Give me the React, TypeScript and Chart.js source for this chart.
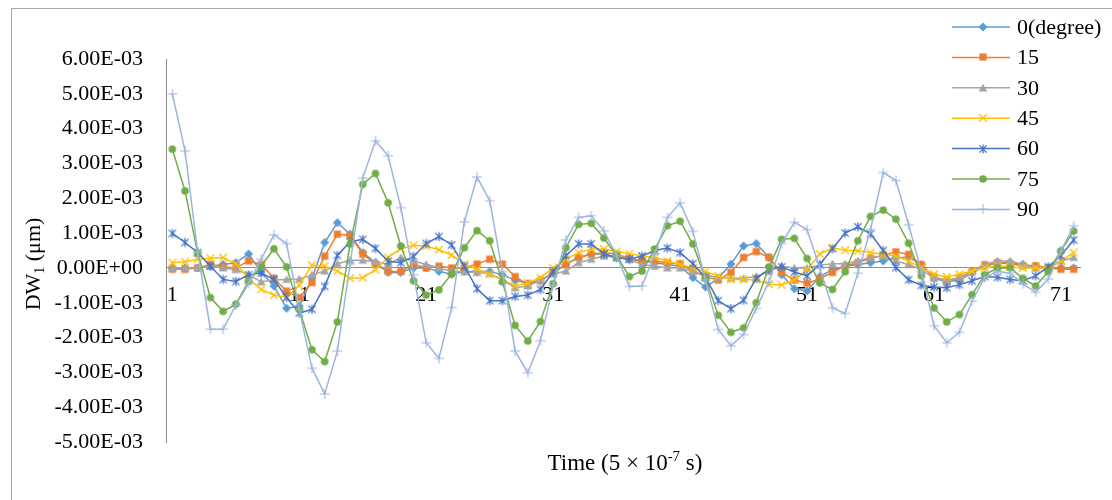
import React, { useEffect, useRef } from 'react';
import { Chart, registerables } from 'chart.js';

Chart.register(...registerables);

// ---------- data (values in units of 1E-03 µm) ----------
const CATEGORIES = [
  '1','2','3','4','5','6','7','8','9','10','11','12','13','14','15','16','17','18',
  '19','20','21','22','23','24','25','26','27','28','29','30','31','32','33','34','35','36',
  '37','38','39','40','41','42','43','44','45','46','47','48','49','50','51','52','53','54',
  '55','56','57','58','59','60','61','62','63','64','65','66','67','68','69','70','71','72',
];

const Y_TICK_VALUES = [-5, -4, -3, -2, -1, 0, 1, 2, 3, 4, 5, 6];
const Y_TICK_LABELS = [
  '-5.00E-03', '-4.00E-03', '-3.00E-03', '-2.00E-03', '-1.00E-03', '0.00E+00',
  '1.00E-03', '2.00E-03', '3.00E-03', '4.00E-03', '5.00E-03', '6.00E-03',
];

const SERIES_NAMES = ['0(degree)', '15', '30', '45', '60', '75', '90'];

const DEG0 = [
  0.00, 0.00, 0.00, 0.05, 0.10, 0.15, 0.40, -0.12, -0.52, -1.16,
  -1.10, -0.30, 0.73, 1.30, 0.97, 0.44, 0.15, -0.13, -0.13, 0.00,
  0.00, -0.10, -0.18, -0.10, -0.10, -0.10, -0.20, -0.35, -0.45, -0.35,
  -0.15, 0.10, 0.30, 0.40, 0.40, 0.30, 0.25, 0.20, 0.15, 0.10,
  0.05, -0.28, -0.55, -0.30, 0.11, 0.63, 0.70, 0.30, -0.20, -0.60,
  -0.66, -0.25, -0.05, 0.05, 0.10, 0.15, 0.20, 0.30, 0.30, 0.10,
  -0.30, -0.40, -0.35, -0.15, 0.05, 0.15, 0.15, 0.10, 0.05, 0.00,
  0.00, 0.00,
];
const DEG15 = [
  -0.04, -0.04, 0.00, 0.10, 0.03, 0.00, 0.20, 0.10, -0.30, -0.67,
  -0.85, -0.42, 0.34, 0.97, 0.93, 0.40, 0.10, -0.10, -0.10, 0.10,
  0.00, 0.05, 0.00, 0.00, 0.11, 0.25, 0.11, -0.25, -0.47, -0.37,
  -0.13, 0.10, 0.30, 0.39, 0.44, 0.39, 0.28, 0.20, 0.20, 0.15,
  0.12, -0.10, -0.25, -0.35, -0.13, 0.30, 0.47, 0.30, -0.13, -0.35,
  -0.44, -0.31, -0.13, 0.06, 0.15, 0.28, 0.36, 0.46, 0.39, 0.09,
  -0.26, -0.37, -0.28, -0.09, 0.09, 0.15, 0.12, 0.06, 0.06, 0.00,
  -0.04, -0.04,
];
const DEG30 = [
  0.00, 0.00, 0.00, 0.05, 0.00, -0.05, -0.20, -0.40, -0.35, -0.33,
  -0.32, -0.20, -0.09, 0.12, 0.22, 0.22, 0.18, 0.10, 0.30, 0.20,
  0.10, 0.00, -0.10, -0.11, -0.13, -0.16, -0.35, -0.57, -0.52, -0.35,
  -0.18, -0.09, 0.15, 0.25, 0.34, 0.30, 0.25, 0.10, 0.05, 0.00,
  0.00, -0.10, -0.20, -0.28, -0.30, -0.30, -0.25, -0.10, 0.05, 0.00,
  0.00, 0.08, 0.12, 0.12, 0.20, 0.30, 0.34, 0.20, 0.10, -0.05,
  -0.30, -0.35, -0.30, -0.10, 0.10, 0.20, 0.20, 0.10, 0.00, 0.00,
  0.20, 0.30,
];
const DEG45 = [
  0.15, 0.18, 0.25, 0.28, 0.30, 0.12, -0.30, -0.62, -0.78, -0.85,
  -0.50, 0.08, 0.05, -0.09, -0.30, -0.28, -0.05, 0.30, 0.55, 0.65,
  0.62, 0.52, 0.37, 0.10, -0.04, -0.18, -0.33, -0.52, -0.43, -0.28,
  0.00, 0.25, 0.44, 0.54, 0.54, 0.47, 0.41, 0.34, 0.30, 0.20,
  0.10, 0.00, -0.10, -0.23, -0.33, -0.33, -0.35, -0.47, -0.49, -0.35,
  -0.05, 0.40, 0.58, 0.51, 0.49, 0.44, 0.39, 0.34, 0.20, 0.00,
  -0.18, -0.26, -0.18, -0.09, 0.00, 0.06, 0.03, 0.00, 0.00, 0.00,
  0.20, 0.44,
];
const DEG60 = [
  0.99, 0.73, 0.44, 0.05, -0.33, -0.39, -0.20, -0.15, -0.33, -0.85,
  -1.30, -1.19, -0.53, 0.36, 0.75, 0.82, 0.56, 0.19, 0.15, 0.33,
  0.70, 0.90, 0.66, 0.05, -0.60, -0.94, -0.94, -0.82, -0.78, -0.62,
  -0.11, 0.35, 0.69, 0.69, 0.40, 0.30, 0.25, 0.34, 0.50, 0.57,
  0.44, 0.12, -0.28, -0.94, -1.17, -0.93, -0.30, -0.04, 0.03, -0.12,
  -0.23, 0.10, 0.55, 1.00, 1.18, 0.98, 0.50, 0.01, -0.34, -0.50,
  -0.55, -0.57, -0.48, -0.37, -0.25, -0.27, -0.33, -0.37, -0.23, 0.03,
  0.35, 0.80,
];
const DEG75 = [
  3.41, 2.21, 0.42, -0.85, -1.25, -1.04, -0.39, 0.05, 0.55, 0.03,
  -1.19, -2.35, -2.69, -1.55, 0.68, 2.40, 2.71, 1.87, 0.63, -0.37,
  -0.78, -0.63, -0.18, 0.58, 1.07, 0.78, -0.40, -1.65, -2.10, -1.54,
  -0.45, 0.58, 1.25, 1.28, 0.86, 0.35, -0.25, -0.09, 0.54, 1.21,
  1.34, 0.69, -0.30, -1.36, -1.85, -1.72, -1.00, 0.03, 0.82, 0.85,
  0.27, -0.43, -0.62, -0.11, 0.78, 1.48, 1.66, 1.40, 0.71, -0.23,
  -1.15, -1.55, -1.34, -0.77, -0.20, 0.00, 0.00, -0.30, -0.52, -0.11,
  0.49, 1.06,
];
const DEG90 = [
  5.00, 3.36, 0.45, -1.76, -1.76, -1.07, -0.45, 0.25, 0.95, 0.70,
  -1.20, -2.88, -3.62, -2.39, 0.10, 2.58, 3.65, 3.22, 1.73, -0.20,
  -2.15, -2.60, -1.14, 1.32, 2.61, 1.93, -0.10, -2.39, -3.01, -2.09,
  -0.50, 0.80, 1.45, 1.50, 1.06, 0.35, -0.53, -0.52, 0.40, 1.45,
  1.87, 1.05, -0.35, -1.77, -2.24, -1.91, -1.16, -0.40, 0.70, 1.31,
  1.10, 0.00, -1.15, -1.31, -0.15, 1.10, 2.74, 2.51, 1.24, -0.10,
  -1.66, -2.15, -1.85, -0.95, -0.28, -0.10, -0.15, -0.45, -0.70, -0.32,
  0.49, 1.21,
];

const SERIES_DATA = [DEG0, DEG15, DEG30, DEG45, DEG60, DEG75, DEG90];
const SERIES_COLORS = ['#5B9BD5', '#ED7D31', '#A5A5A5', '#FFC000', '#4472C4', '#70AD47', '#9DB4DF'];
const SERIES_MARKERS = ['diamond', 'square', 'triangle', 'x', 'star', 'circle', 'plus'];

const FONT = '"Liberation Serif", "Times New Roman", serif';

function makeMarker(kind: string, color: string): HTMLCanvasElement {
  const s = 14;
  const c = document.createElement('canvas');
  c.width = s;
  c.height = s;
  const g = c.getContext('2d') as CanvasRenderingContext2D;
  const m = s / 2;
  g.fillStyle = color;
  g.strokeStyle = color;
  g.lineWidth = 1.3;
  g.beginPath();
  switch (kind) {
    case 'diamond':
      g.moveTo(m, m - 4.5); g.lineTo(m + 4.5, m); g.lineTo(m, m + 4.5); g.lineTo(m - 4.5, m); g.closePath(); g.fill();
      break;
    case 'square':
      g.rect(m - 3.6, m - 3.6, 7.2, 7.2); g.fill();
      break;
    case 'triangle':
      g.moveTo(m, m - 4.2); g.lineTo(m + 4.4, m + 3.4); g.lineTo(m - 4.4, m + 3.4); g.closePath(); g.fill();
      break;
    case 'x':
      g.moveTo(m - 3.8, m - 3.8); g.lineTo(m + 3.8, m + 3.8);
      g.moveTo(m + 3.8, m - 3.8); g.lineTo(m - 3.8, m + 3.8); g.stroke();
      break;
    case 'star':
      g.moveTo(m - 3.6, m - 3.6); g.lineTo(m + 3.6, m + 3.6);
      g.moveTo(m + 3.6, m - 3.6); g.lineTo(m - 3.6, m + 3.6);
      g.moveTo(m, m - 4.6); g.lineTo(m, m + 4.6); g.stroke();
      break;
    case 'circle':
      g.arc(m, m, 3.8, 0, Math.PI * 2); g.fill();
      break;
    case 'plus':
      g.lineWidth = 1;
      g.moveTo(m - 5, m); g.lineTo(m + 5, m);
      g.moveTo(m, m - 5); g.lineTo(m, m + 5); g.stroke();
      break;
  }
  return c;
}

export default function App() {
  const ref = useRef<HTMLCanvasElement | null>(null);

  useEffect(() => {
    const canvas = ref.current;
    if (!canvas) return;
    const markers = SERIES_MARKERS.map((k, i) => makeMarker(k, SERIES_COLORS[i]));

    const overlay = {
      id: 'overlay',
      afterDraw(chart: any) {
        const ctx: CanvasRenderingContext2D = chart.ctx;
        ctx.save();
        // frame
        ctx.strokeStyle = '#A6A6A6';
        ctx.lineWidth = 1;
        ctx.beginPath();
        ctx.moveTo(11.5, 500);
        ctx.lineTo(11.5, 8.5);
        ctx.lineTo(1112, 8.5);
        ctx.stroke();

        // legend
        ctx.fillStyle = '#000';
        ctx.textBaseline = 'middle';
        ctx.textAlign = 'left';
        ctx.font = `22px ${FONT}`;
        SERIES_NAMES.forEach((name, i) => {
          const y = 27 + i * 30.4;
          ctx.strokeStyle = SERIES_COLORS[i];
          ctx.lineWidth = 1.5;
          ctx.beginPath();
          ctx.moveTo(952, y);
          ctx.lineTo(1010, y);
          ctx.stroke();
          ctx.drawImage(markers[i], 983 - 7, Math.round(y) - 7);
          ctx.fillStyle = '#000';
          ctx.fillText(name, 1017, y + 1);
        });

        // y axis title (rotated)
        ctx.save();
        ctx.translate(33, 264);
        ctx.rotate(-Math.PI / 2);
        ctx.textBaseline = 'alphabetic';
        const big = `22px ${FONT}`;
        const small = `14px ${FONT}`;
        ctx.font = big;
        const w1 = ctx.measureText('DW').width;
        const w3 = ctx.measureText(' (μm)').width;
        ctx.font = small;
        const w2 = ctx.measureText('1').width;
        let x = -(w1 + w2 + w3) / 2;
        ctx.font = big;
        ctx.fillText('DW', x, 7);
        x += w1;
        ctx.font = small;
        ctx.fillText('1', x, 11);
        x += w2;
        ctx.font = big;
        ctx.fillText(' (μm)', x, 7);
        ctx.restore();

        // x axis title
        ctx.textBaseline = 'alphabetic';
        const tBig = `23px ${FONT}`;
        const tSmall = `15px ${FONT}`;
        const parts: [string, string, number][] = [
          ['Time (5', tBig, 0],
          [' × ', tBig, 0],
          ['10', tBig, 0],
          ['-7', tSmall, -9],
          [' s)', tBig, 0],
        ];
        let total = 0;
        const widths = parts.map(([t, f]) => {
          ctx.font = f;
          const w = ctx.measureText(t).width;
          total += w;
          return w;
        });
        let tx = 625 - total / 2;
        parts.forEach(([t, f, dy], i) => {
          ctx.font = f;
          ctx.fillText(t, tx, 470 + dy);
          tx += widths[i];
        });
        ctx.restore();
      },
    };

    const chart = new Chart(canvas, {
      type: 'line',
      data: {
        labels: CATEGORIES,
        datasets: SERIES_DATA.map((d, i) => ({
          label: SERIES_NAMES[i],
          data: d,
          borderColor: SERIES_COLORS[i],
          backgroundColor: SERIES_COLORS[i],
          borderWidth: 1.5,
          pointStyle: markers[i] as any,
          pointRadius: 4,
          tension: 0,
          order: 6 - i,
        })),
      },
      options: {
        animation: false,
        responsive: false,
        devicePixelRatio: 1,
        layout: { padding: { left: 11, top: 59, right: 32, bottom: 58 } },
        plugins: { legend: { display: false }, tooltip: { enabled: false } },
        scales: {
          x: {
            type: 'category',
            offset: true,
            position: { y: 0 } as any,
            grid: { display: false, drawTicks: false },
            border: { display: true, color: '#8C8C8C', width: 1 },
            ticks: {
              autoSkip: false,
              maxRotation: 0,
              minRotation: 0,
              padding: 14,
              color: '#000',
              font: { family: FONT, size: 22 },
              callback: (_v: any, i: number) => (i % 10 === 0 ? CATEGORIES[i] : ''),
            },
            afterFit: (s: any) => { s.height = 0; },
          },
          y: {
            type: 'linear',
            min: -5,
            max: 6,
            grid: { display: false, drawTicks: false },
            border: { display: true, color: '#8C8C8C', width: 1 },
            ticks: {
              stepSize: 1,
              padding: 23,
              color: '#000',
              font: { family: FONT, size: 22 },
              callback: (v: any) => {
                const idx = Y_TICK_VALUES.indexOf(Math.round(Number(v)));
                return idx >= 0 ? Y_TICK_LABELS[idx] : '';
              },
            },
            afterFit: (s: any) => { s.width = 155; },
          },
        },
      },
      plugins: [overlay],
    });
    return () => chart.destroy();
  }, []);

  return (
    <div style={{ position: 'absolute', left: 0, top: 0, width: 1112, height: 500, background: '#fff' }}>
      <canvas ref={ref} width={1112} height={500} style={{ display: 'block', width: 1112, height: 500 }} />
    </div>
  );
}
